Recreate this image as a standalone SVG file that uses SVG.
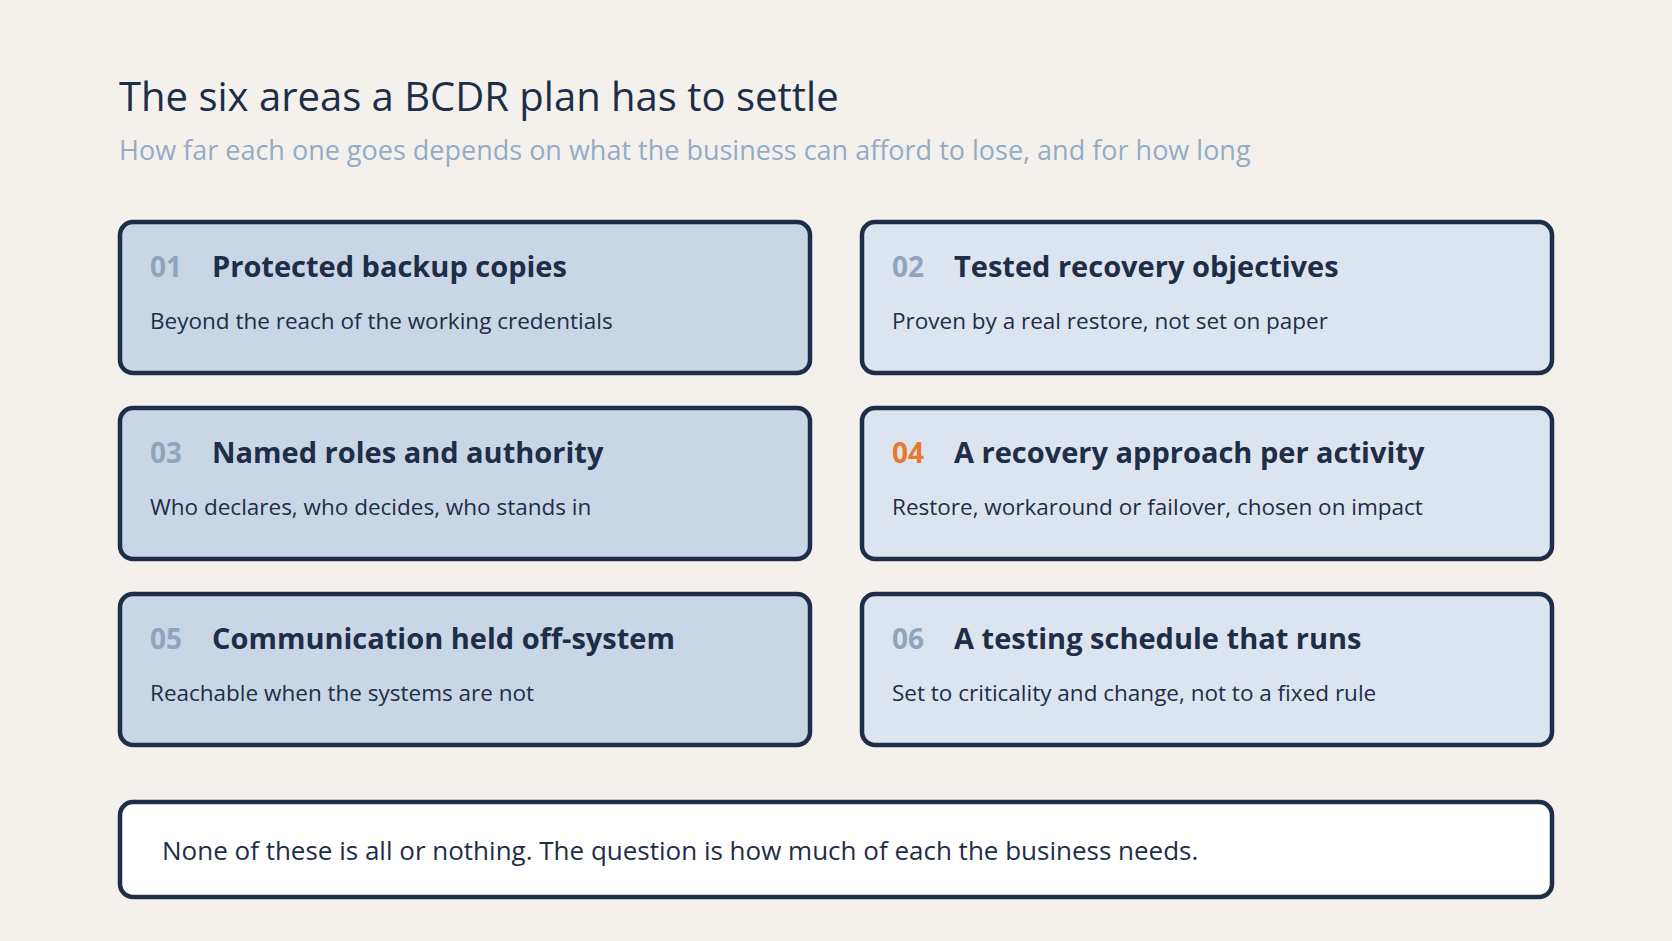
<svg xmlns="http://www.w3.org/2000/svg" width="1672" height="941" viewBox="0 0 1672 941">
<style>
.card{stroke:#1e2d48;stroke-width:4.5}
.l{fill:#c9d6e6}.r{fill:#dce5ef}
.num{font-family:"Open Sans",sans-serif;font-weight:700;font-size:28px;fill:#8fa5bf}
.t{font-family:"Open Sans",sans-serif;font-weight:700;font-size:29px;fill:#1e2d48}
.d{font-family:"Open Sans",sans-serif;font-size:22.5px;fill:#1e2d48}
</style>
<rect width="1672" height="941" fill="#f4f1ed"/>
<text x="119" y="111" font-family="Open Sans, sans-serif" font-size="40" fill="#1e2d48">The six areas a BCDR plan has to settle</text>
<text x="119" y="160" font-family="Open Sans, sans-serif" font-size="27" fill="#95abc4">How far each one goes depends on what the business can afford to lose, and for how long</text>
<g id="n1"><rect class="card l" x="120" y="222" width="690" height="151" rx="13"/><text class="num" x="150" y="277">01</text><text class="t" x="212" y="277">Protected backup copies</text><text class="d" x="150" y="329">Beyond the reach of the working credentials</text></g>
<g id="n2"><rect class="card r" x="862" y="222" width="690" height="151" rx="13"/><text class="num" x="892" y="277">02</text><text class="t" x="954" y="277">Tested recovery objectives</text><text class="d" x="892" y="329">Proven by a real restore, not set on paper</text></g>
<g id="n3"><rect class="card l" x="120" y="408" width="690" height="151" rx="13"/><text class="num" x="150" y="463">03</text><text class="t" x="212" y="463">Named roles and authority</text><text class="d" x="150" y="515">Who declares, who decides, who stands in</text></g>
<g id="n4"><rect class="card r" x="862" y="408" width="690" height="151" rx="13"/><text class="num" x="892" y="463" style="fill:#e8782e">04</text><text class="t" x="954" y="463">A recovery approach per activity</text><text class="d" x="892" y="515">Restore, workaround or failover, chosen on impact</text></g>
<g id="n5"><rect class="card l" x="120" y="594" width="690" height="151" rx="13"/><text class="num" x="150" y="649">05</text><text class="t" x="212" y="649">Communication held off-system</text><text class="d" x="150" y="701">Reachable when the systems are not</text></g>
<g id="n6"><rect class="card r" x="862" y="594" width="690" height="151" rx="13"/><text class="num" x="892" y="649">06</text><text class="t" x="954" y="649">A testing schedule that runs</text><text class="d" x="892" y="701">Set to criticality and change, not to a fixed rule</text></g>
<g id="n7"><rect x="120" y="802" width="1432" height="95" rx="13" fill="#fff" stroke="#1e2d48" stroke-width="4.5"/><text x="162" y="860" font-family="Open Sans, sans-serif" font-size="26" fill="#1e2d48">None of these is all or nothing. The question is how much of each the business needs.</text></g>
<g id="connectors"/>
</svg>
